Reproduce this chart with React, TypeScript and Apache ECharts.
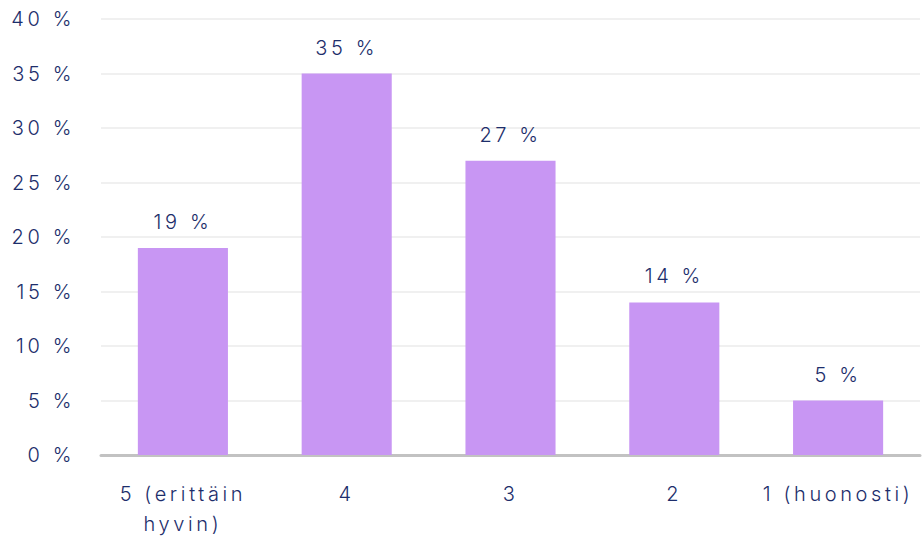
import React, { useEffect, useRef } from "react";
import * as echarts from "echarts";

const categories = ["5 (erittäin\nhyvin)", "4", "3", "2", "1 (huonosti)"];
const values = [19, 35, 27, 14, 5];
const yTicks = { min: 0, max: 40, interval: 5 };

const TEXT = "#1d2e6b";
const FONT = "Inter";

export default function App() {
  const ref = useRef<HTMLDivElement>(null);
  useEffect(() => {
    const chart = echarts.init(ref.current!, null, { renderer: "svg" });
    chart.setOption({
      animation: false,
      grid: { left: 101, right: 3, top: 19, bottom: 93, containLabel: false },
      xAxis: {
        type: "category",
        data: categories,
        axisLine: { lineStyle: { color: "#c2c2c2", width: 3 } },
        axisTick: { show: false },
        axisLabel: {
          color: TEXT,
          fontFamily: FONT,
          fontSize: 20,
          fontWeight: 300,
          lineHeight: 30,
          margin: 24,
          interval: 0,
        },
      },
      yAxis: {
        type: "value",
        min: yTicks.min,
        max: yTicks.max,
        interval: yTicks.interval,
        axisLine: { show: false },
        axisTick: { show: false },
        splitLine: { lineStyle: { color: "#f0f0f0", width: 2 } },
        axisLabel: {
          color: TEXT,
          fontFamily: FONT,
          fontSize: 20,
          fontWeight: 300,
          margin: 26,
          formatter: (v: number) => `${v} %`,
        },
      },
      series: [
        {
          type: "bar",
          data: values,
          barWidth: "55%",
          itemStyle: { color: "#c896f3" },
          label: {
            show: true,
            position: "top",
            distance: 16,
            color: TEXT,
            fontFamily: FONT,
            fontSize: 20,
            fontWeight: 300,
            formatter: (p: any) => `${p.value} %`,
          },
        },
      ],
    });
    return () => chart.dispose();
  }, []);
  return (
    <>
      <style>{`#chart-root text { letter-spacing: 3.6px; }`}</style>
      <div id="chart-root" ref={ref} style={{ width: 923, height: 548, position: "absolute", left: 0, top: 0 }} />
    </>
  );
}
